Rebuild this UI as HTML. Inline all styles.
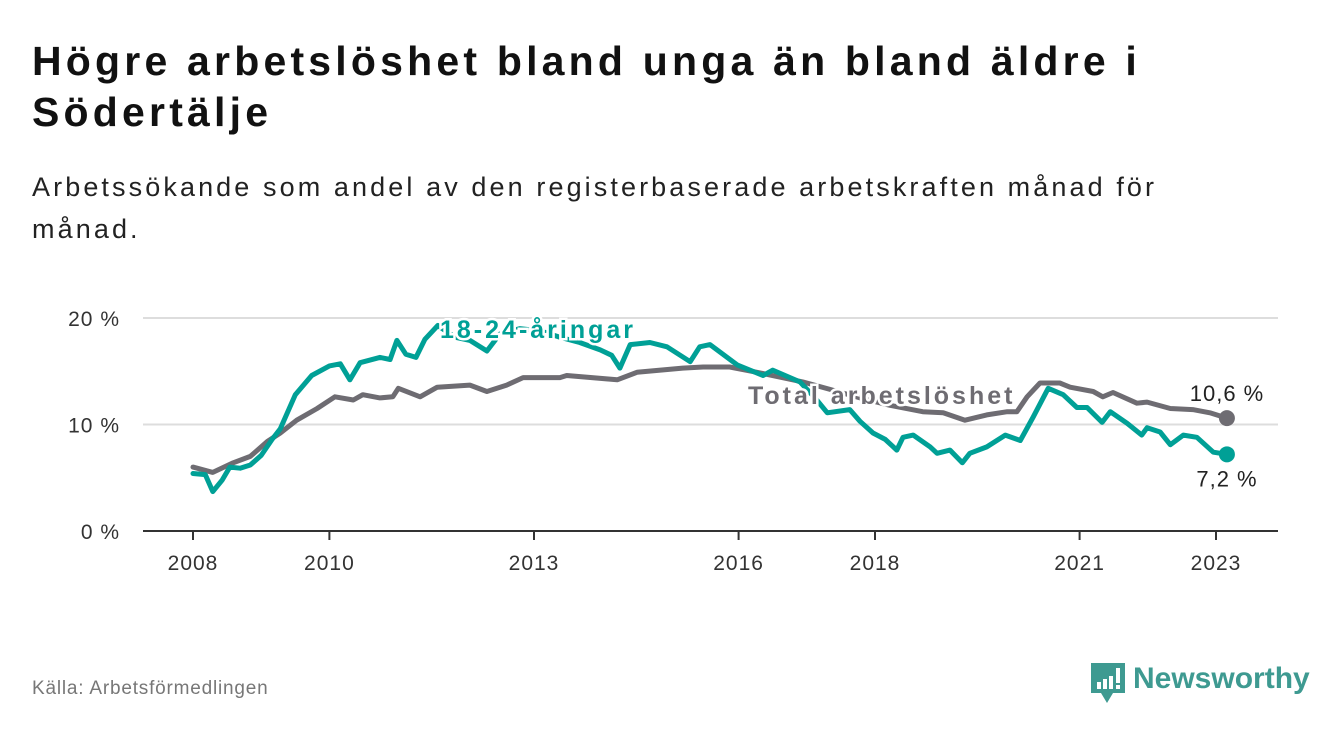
<!DOCTYPE html>
<html><head><meta charset="utf-8">
<style>
body{margin:0;background:#fff;width:1340px;height:734px;overflow:hidden;font-family:"Liberation Sans",sans-serif;}
#title{position:absolute;left:32px;top:36px;font-size:41px;letter-spacing:4.2px;font-weight:bold;color:#111;line-height:51px;margin:0;width:1300px;}
#sub{position:absolute;left:32px;top:166px;font-size:27px;letter-spacing:3.1px;color:#222;line-height:42px;width:1300px;}
#src{position:absolute;left:32px;top:678px;font-size:19px;letter-spacing:0.8px;color:#777;}
</style></head><body>
<h1 id="title">Högre arbetslöshet bland unga än bland äldre i<br>Södertälje</h1>
<div id="sub">Arbetssökande som andel av den registerbaserade arbetskraften månad för<br>månad.</div>
<svg id="chart" width="1340" height="734" style="position:absolute;left:0;top:0" xmlns="http://www.w3.org/2000/svg"></svg>
<div id="src">Källa: Arbetsförmedlingen</div>
<div style="position:absolute;left:1089px;top:662px;width:220px;height:44px;">
<svg width="40" height="44" style="position:absolute;left:0;top:0"><path d="M2 1h34v30h-12l-6 10l-6-10h-10z" fill="#3e9a91"/><rect x="8" y="20" width="4" height="7" fill="#fff"/><rect x="14" y="17" width="4" height="10" fill="#fff"/><rect x="20" y="14" width="4" height="13" fill="#fff"/><rect x="27" y="6" width="4" height="15" fill="#fff"/><rect x="27" y="23" width="4" height="4" fill="#fff"/></svg>
<span style="position:absolute;left:44px;top:0px;font-size:30px;font-weight:bold;color:#3e9a91;">Newsworthy</span>
</div>
<script>
const yTicks=[0,10,20];
const xTickYears=[2008,2010,2013,2016,2018,2021,2023];
const youthDates=[2008.00,2008.18,2008.29,2008.43,2008.54,2008.69,2008.84,2009.00,2009.16,2009.28,2009.50,2009.74,2010.00,2010.16,2010.30,2010.45,2010.74,2010.89,2010.99,2011.12,2011.27,2011.40,2011.59,2011.84,2012.06,2012.31,2012.50,2012.79,2013.09,2013.38,2013.67,2013.97,2014.14,2014.26,2014.41,2014.70,2014.95,2015.29,2015.43,2015.58,2015.98,2016.36,2016.50,2016.90,2017.12,2017.30,2017.63,2017.78,2017.97,2018.15,2018.32,2018.41,2018.56,2018.81,2018.91,2019.10,2019.28,2019.39,2019.64,2019.91,2020.13,2020.32,2020.54,2020.76,2020.96,2021.11,2021.33,2021.45,2021.70,2021.91,2021.99,2022.18,2022.33,2022.52,2022.72,2022.96,2023.16];
const youthValues=[5.4,5.3,3.7,4.8,6.0,5.9,6.2,7.1,8.6,9.6,12.8,14.6,15.5,15.7,14.2,15.8,16.3,16.1,17.9,16.6,16.3,18.0,19.3,18.2,17.9,16.9,18.5,19.0,18.8,18.2,17.7,17.0,16.5,15.3,17.5,17.7,17.3,15.9,17.3,17.5,15.6,14.6,15.1,14.0,12.5,11.1,11.4,10.3,9.2,8.6,7.6,8.8,9.0,7.9,7.3,7.6,6.4,7.3,7.9,9.0,8.5,10.7,13.4,12.8,11.6,11.6,10.2,11.2,10.1,9.0,9.7,9.3,8.1,9.0,8.8,7.4,7.2];
const totalDates=[2008.00,2008.29,2008.59,2008.84,2009.09,2009.28,2009.52,2009.82,2010.08,2010.35,2010.49,2010.74,2010.93,2011.01,2011.33,2011.58,2012.06,2012.31,2012.60,2012.84,2013.38,2013.48,2014.22,2014.51,2015.18,2015.48,2015.87,2016.27,2016.94,2017.34,2017.78,2018.22,2018.70,2019.00,2019.32,2019.64,2019.94,2020.08,2020.23,2020.42,2020.71,2020.86,2021.20,2021.34,2021.49,2021.84,2021.99,2022.33,2022.66,2022.91,2023.16];
const totalValues=[6.0,5.5,6.4,7.0,8.4,9.2,10.4,11.5,12.6,12.3,12.8,12.5,12.6,13.4,12.6,13.5,13.7,13.1,13.7,14.4,14.4,14.6,14.2,14.9,15.3,15.4,15.4,14.9,14.0,13.3,12.5,11.8,11.2,11.1,10.4,10.9,11.2,11.2,12.6,13.9,13.9,13.5,13.1,12.6,13.0,12.0,12.1,11.5,11.4,11.1,10.6];

const NS="http://www.w3.org/2000/svg";
const svg=document.getElementById('chart');
const X=y=>193+(y-2008)*68.2;
const Y=v=>531-v*10.65;
function mk(t,a,parent){const e=document.createElementNS(NS,t);for(const k in a)e.setAttribute(k,a[k]);(parent||svg).appendChild(e);return e;}
yTicks.forEach(v=>{
  if(v>0){const g=mk('line',{x1:143,x2:1278,y1:Y(v),y2:Y(v),stroke:'#ddd','stroke-width':2});
  
  }
  const t=mk('text',{x:120,y:Y(v)+8,'text-anchor':'end','font-size':21,'letter-spacing':1,fill:'#333','font-family':'Liberation Sans, sans-serif'});
  t.textContent=v+' %';
  
  
});
const ax=mk('line',{x1:143,x2:1278,y1:531,y2:531,stroke:'#333','stroke-width':2});


xTickYears.forEach(yr=>{
  const tk=mk('line',{x1:X(yr),x2:X(yr),y1:531,y2:540,stroke:'#333','stroke-width':2});
  
  
  const t=mk('text',{x:X(yr),y:570,'text-anchor':'middle','font-size':21,'letter-spacing':1,fill:'#333','font-family':'Liberation Sans, sans-serif'});
  t.textContent=yr;
  
  
});
function line(d,v,c,name){
  const p=mk('path',{d:d.map((y,i)=>(i?'L':'M')+X(y).toFixed(1)+' '+Y(v[i]).toFixed(1)).join(''),fill:'none',stroke:c,'stroke-width':5,'stroke-linejoin':'round','stroke-linecap':'round'});
  
  
  const n=d.length-1;
  const c2=mk('circle',{cx:X(d[n]),cy:Y(v[n]),r:8,fill:c});
  
  
}
line(totalDates,totalValues,'#6e6c72','total-line');
line(youthDates,youthValues,'#00a096','youth-line');
function lbl(x,y,txt,c,name,anchor,bold,size,ls){
  const t=mk('text',{x:x,y:y,'text-anchor':anchor,'font-size':size,'letter-spacing':ls,'font-weight':bold?'bold':'normal',fill:c,stroke:bold?'#fff':'none','stroke-width':bold?5:0,'paint-order':'stroke','font-family':'Liberation Sans, sans-serif'});
  t.textContent=txt;
  
  
}
lbl(440,338,'18-24-åringar','#00a096','youth-series-label','start',true,25,3);
lbl(748,404,'Total arbetslöshet','#6e6c72','total-series-label','start',true,25,3);
const tn=totalValues.length-1, yn=youthValues.length-1;
lbl(1227,Y(totalValues[tn])-17,totalValues[tn].toFixed(1).replace('.',',')+' %','#222','total-end-value','middle',false,22,1);
lbl(1227,Y(youthValues[yn])+32,youthValues[yn].toFixed(1).replace('.',',')+' %','#222','youth-end-value','middle',false,22,1);
</script>
</body></html>
